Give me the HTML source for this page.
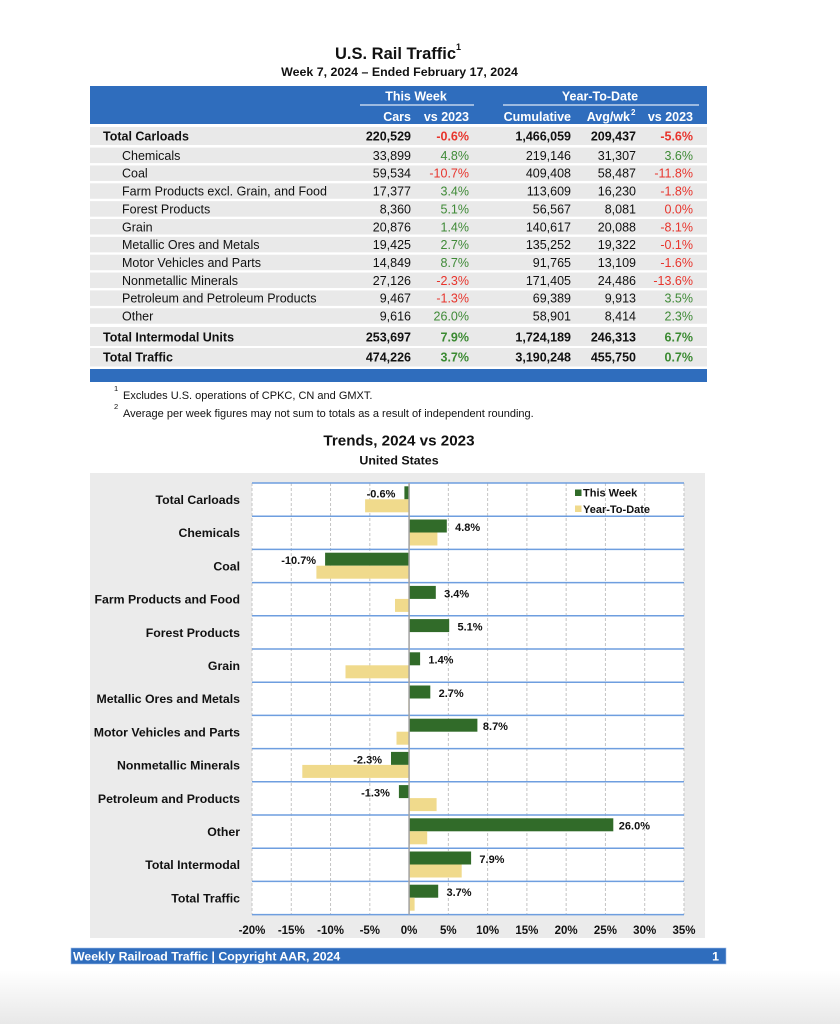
<!DOCTYPE html>
<html><head><meta charset="utf-8"><style>
html,body{margin:0;padding:0;background:#fff;}
svg{display:block;}
text{font-family:"Liberation Sans",Arial,Helvetica,sans-serif;}
</style></head><body>
<svg width="840" height="1024" viewBox="0 0 840 1024" xmlns="http://www.w3.org/2000/svg">
<defs>
<linearGradient id="bg" x1="0" y1="0" x2="0" y2="1">
<stop offset="0" stop-color="#ffffff"/><stop offset="1" stop-color="#e8e8e8"/>
</linearGradient>
</defs>
<rect x="0" y="0" width="840" height="1024" fill="#fff"/>
<rect x="0" y="970" width="840" height="54" fill="url(#bg)"/>

<!-- Title -->
<text x="335" y="59" font-size="16.5" font-weight="bold" fill="#111">U.S. Rail Traffic</text>
<text x="456" y="50" font-size="9" font-weight="bold" fill="#111">1</text>
<text x="399.5" y="76" font-size="12.4" font-weight="bold" fill="#111" text-anchor="middle">Week 7, 2024 – Ended February 17, 2024</text>

<!-- Table header -->
<rect x="90" y="86" width="617" height="38" fill="#2f6dbd"/>
<text x="416" y="100.5" font-size="12.5" font-weight="bold" fill="#fff" text-anchor="middle">This Week</text>
<text x="600" y="100.5" font-size="12.5" font-weight="bold" fill="#fff" text-anchor="middle">Year-To-Date</text>
<line x1="360" y1="105" x2="474" y2="105" stroke="#dfe8f6" stroke-width="1.2"/>
<line x1="503" y1="105" x2="699" y2="105" stroke="#dfe8f6" stroke-width="1.2"/>
<g font-size="12.5" font-weight="bold" fill="#fff" text-anchor="end">
<text x="411" y="121">Cars</text>
<text x="469" y="121">vs 2023</text>
<text x="571" y="121">Cumulative</text>
<text x="630" y="121">Avg/wk</text>
<text x="693" y="121">vs 2023</text>
</g>
<text x="631" y="115" font-size="8" font-weight="bold" fill="#fff">2</text>

<!-- Table rows backgrounds -->
<g fill="#e9e9e9">
<rect x="90" y="127" width="617" height="18"/>
<rect x="90" y="147.6" width="617" height="15.5"/>
<rect x="90" y="165.45" width="617" height="15.5"/>
<rect x="90" y="183.3" width="617" height="15.5"/>
<rect x="90" y="201.15" width="617" height="15.5"/>
<rect x="90" y="219" width="617" height="15.5"/>
<rect x="90" y="236.85" width="617" height="15.5"/>
<rect x="90" y="254.7" width="617" height="15.5"/>
<rect x="90" y="272.55" width="617" height="15.5"/>
<rect x="90" y="290.4" width="617" height="15.5"/>
<rect x="90" y="308.25" width="617" height="15.5"/>
<rect x="90" y="327" width="617" height="19"/>
<rect x="90" y="348" width="617" height="18.5"/>
</g>
<rect x="90" y="369" width="617" height="13" fill="#2f6dbd"/>

<!-- Table text -->
<g font-size="12.5" fill="#111">
<g font-weight="bold">
<text x="103" y="140.5">Total Carloads</text>
<text x="103" y="341.5">Total Intermodal Units</text>
<text x="103" y="361.5">Total Traffic</text>
</g>
<text x="122" y="159.85">Chemicals</text>
<text x="122" y="177.7">Coal</text>
<text x="122" y="195.55">Farm Products excl. Grain, and Food</text>
<text x="122" y="213.4">Forest Products</text>
<text x="122" y="231.25">Grain</text>
<text x="122" y="249.1">Metallic Ores and Metals</text>
<text x="122" y="266.95">Motor Vehicles and Parts</text>
<text x="122" y="284.8">Nonmetallic Minerals</text>
<text x="122" y="302.65">Petroleum and Petroleum Products</text>
<text x="122" y="320.5">Other</text>
</g>

<g font-size="12.5" text-anchor="end">
<!-- Total Carloads -->
<g font-weight="bold">
<text x="411" y="140.5" fill="#111">220,529</text>
<text x="469" y="140.5" fill="#e8342c">-0.6%</text>
<text x="571" y="140.5" fill="#111">1,466,059</text>
<text x="636" y="140.5" fill="#111">209,437</text>
<text x="693" y="140.5" fill="#e8342c">-5.6%</text>

<text x="411" y="341.5" fill="#111">253,697</text>
<text x="469" y="341.5" fill="#3b8a32">7.9%</text>
<text x="571" y="341.5" fill="#111">1,724,189</text>
<text x="636" y="341.5" fill="#111">246,313</text>
<text x="693" y="341.5" fill="#3b8a32">6.7%</text>

<text x="411" y="361.5" fill="#111">474,226</text>
<text x="469" y="361.5" fill="#3b8a32">3.7%</text>
<text x="571" y="361.5" fill="#111">3,190,248</text>
<text x="636" y="361.5" fill="#111">455,750</text>
<text x="693" y="361.5" fill="#3b8a32">0.7%</text>
</g>

<g fill="#111">
<text x="411" y="159.85">33,899</text><text x="571" y="159.85">219,146</text><text x="636" y="159.85">31,307</text>
<text x="411" y="177.7">59,534</text><text x="571" y="177.7">409,408</text><text x="636" y="177.7">58,487</text>
<text x="411" y="195.55">17,377</text><text x="571" y="195.55">113,609</text><text x="636" y="195.55">16,230</text>
<text x="411" y="213.4">8,360</text><text x="571" y="213.4">56,567</text><text x="636" y="213.4">8,081</text>
<text x="411" y="231.25">20,876</text><text x="571" y="231.25">140,617</text><text x="636" y="231.25">20,088</text>
<text x="411" y="249.1">19,425</text><text x="571" y="249.1">135,252</text><text x="636" y="249.1">19,322</text>
<text x="411" y="266.95">14,849</text><text x="571" y="266.95">91,765</text><text x="636" y="266.95">13,109</text>
<text x="411" y="284.8">27,126</text><text x="571" y="284.8">171,405</text><text x="636" y="284.8">24,486</text>
<text x="411" y="302.65">9,467</text><text x="571" y="302.65">69,389</text><text x="636" y="302.65">9,913</text>
<text x="411" y="320.5">9,616</text><text x="571" y="320.5">58,901</text><text x="636" y="320.5">8,414</text>
</g>
<g>
<text x="469" y="159.85" fill="#3f8a37">4.8%</text><text x="693" y="159.85" fill="#3f8a37">3.6%</text>
<text x="469" y="177.7" fill="#e8342c">-10.7%</text><text x="693" y="177.7" fill="#e8342c">-11.8%</text>
<text x="469" y="195.55" fill="#3f8a37">3.4%</text><text x="693" y="195.55" fill="#e8342c">-1.8%</text>
<text x="469" y="213.4" fill="#3f8a37">5.1%</text><text x="693" y="213.4" fill="#e8342c">0.0%</text>
<text x="469" y="231.25" fill="#3f8a37">1.4%</text><text x="693" y="231.25" fill="#e8342c">-8.1%</text>
<text x="469" y="249.1" fill="#3f8a37">2.7%</text><text x="693" y="249.1" fill="#e8342c">-0.1%</text>
<text x="469" y="266.95" fill="#3f8a37">8.7%</text><text x="693" y="266.95" fill="#e8342c">-1.6%</text>
<text x="469" y="284.8" fill="#e8342c">-2.3%</text><text x="693" y="284.8" fill="#e8342c">-13.6%</text>
<text x="469" y="302.65" fill="#e8342c">-1.3%</text><text x="693" y="302.65" fill="#3f8a37">3.5%</text>
<text x="469" y="320.5" fill="#3f8a37">26.0%</text><text x="693" y="320.5" fill="#3f8a37">2.3%</text>
</g>
</g>

<!-- Footnotes -->
<g font-size="11" fill="#111">
<text x="114" y="391" font-size="7.5">1</text>
<text x="123" y="399">Excludes U.S. operations of CPKC, CN and GMXT.</text>
<text x="114" y="409" font-size="7.5">2</text>
<text x="123" y="417">Average per week figures may not sum to totals as a result of independent rounding.</text>
</g>

<!-- Chart titles -->
<text x="399" y="445.4" font-size="15.2" font-weight="bold" fill="#111" text-anchor="middle">Trends, 2024 vs 2023</text>
<text x="399" y="464.4" font-size="12.4" font-weight="bold" fill="#111" text-anchor="middle">United States</text>

<!-- Chart background -->
<rect x="90" y="473" width="615" height="465" fill="#ebebeb"/>
<rect x="252" y="483" width="432" height="431.6" fill="#fff"/>

<!-- vertical grid -->
<g stroke="#c4c4c4" stroke-width="1" stroke-dasharray="3,2">
<line x1="252" y1="483" x2="252" y2="914.6"/>
<line x1="291.27" y1="483" x2="291.27" y2="914.6"/>
<line x1="330.54" y1="483" x2="330.54" y2="914.6"/>
<line x1="369.81" y1="483" x2="369.81" y2="914.6"/>
<line x1="448.35" y1="483" x2="448.35" y2="914.6"/>
<line x1="487.62" y1="483" x2="487.62" y2="914.6"/>
<line x1="526.89" y1="483" x2="526.89" y2="914.6"/>
<line x1="566.16" y1="483" x2="566.16" y2="914.6"/>
<line x1="605.43" y1="483" x2="605.43" y2="914.6"/>
<line x1="644.7" y1="483" x2="644.7" y2="914.6"/>
<line x1="683.97" y1="483" x2="683.97" y2="914.6"/>
</g>

<!-- horizontal blue lines -->
<g stroke="#6e9edf" stroke-width="1.5">
<line x1="252" y1="483" x2="684" y2="483"/>
<line x1="252" y1="516.2" x2="684" y2="516.2"/>
<line x1="252" y1="549.4" x2="684" y2="549.4"/>
<line x1="252" y1="582.6" x2="684" y2="582.6"/>
<line x1="252" y1="615.8" x2="684" y2="615.8"/>
<line x1="252" y1="649" x2="684" y2="649"/>
<line x1="252" y1="682.2" x2="684" y2="682.2"/>
<line x1="252" y1="715.4" x2="684" y2="715.4"/>
<line x1="252" y1="748.6" x2="684" y2="748.6"/>
<line x1="252" y1="781.8" x2="684" y2="781.8"/>
<line x1="252" y1="815" x2="684" y2="815"/>
<line x1="252" y1="848.2" x2="684" y2="848.2"/>
<line x1="252" y1="881.4" x2="684" y2="881.4"/>
<line x1="252" y1="914.6" x2="684" y2="914.6"/>
</g>

<!-- bars: This Week (green) -->
<g fill="#316b29">
<rect x="404.4" y="486.3" width="4.7" height="13"/>
<rect x="409.1" y="519.5" width="37.7" height="13"/>
<rect x="325.1" y="552.7" width="84" height="13"/>
<rect x="409.1" y="585.9" width="26.7" height="13"/>
<rect x="409.1" y="619.1" width="40.1" height="13"/>
<rect x="409.1" y="652.3" width="11" height="13"/>
<rect x="409.1" y="685.5" width="21.2" height="13"/>
<rect x="409.1" y="718.7" width="68.3" height="13"/>
<rect x="391" y="751.9" width="18.1" height="13"/>
<rect x="398.9" y="785.1" width="10.2" height="13"/>
<rect x="409.1" y="818.3" width="204.2" height="13"/>
<rect x="409.1" y="851.5" width="62" height="13"/>
<rect x="409.1" y="884.7" width="29.1" height="13"/>
</g>
<!-- bars: YTD (yellow) -->
<g fill="#f0da8c">
<rect x="365.1" y="499.3" width="44" height="13"/>
<rect x="409.1" y="532.5" width="28.3" height="13"/>
<rect x="316.4" y="565.7" width="92.7" height="13"/>
<rect x="395" y="598.9" width="14.1" height="13"/>
<rect x="345.5" y="665.3" width="63.6" height="13"/>
<rect x="408.3" y="698.5" width="0.8" height="13"/>
<rect x="396.5" y="731.7" width="12.6" height="13"/>
<rect x="302.3" y="764.9" width="106.8" height="13"/>
<rect x="409.1" y="798.1" width="27.5" height="13"/>
<rect x="409.1" y="831.3" width="18.1" height="13"/>
<rect x="409.1" y="864.5" width="52.6" height="13"/>
<rect x="409.1" y="897.7" width="5.5" height="13"/>
</g>

<!-- zero axis -->
<line x1="409.08" y1="483" x2="409.08" y2="914.6" stroke="#a3a3a3" stroke-width="1.5"/>

<!-- value labels -->
<g font-size="11" font-weight="bold" fill="#111">
<text x="395.4" y="497.7" text-anchor="end">-0.6%</text>
<text x="455.1" y="530.9">4.8%</text>
<text x="316.1" y="564.1" text-anchor="end">-10.7%</text>
<text x="444.1" y="597.3">3.4%</text>
<text x="457.5" y="630.5">5.1%</text>
<text x="428.4" y="663.7">1.4%</text>
<text x="438.6" y="696.9">2.7%</text>
<text x="482.9" y="730.1">8.7%</text>
<text x="382" y="763.3" text-anchor="end">-2.3%</text>
<text x="389.9" y="796.5" text-anchor="end">-1.3%</text>
<text x="618.8" y="829.7">26.0%</text>
<text x="479.4" y="862.9">7.9%</text>
<text x="446.5" y="896.1">3.7%</text>
</g>

<!-- legend -->
<rect x="575" y="489.5" width="6.5" height="6.5" fill="#316b29"/>
<rect x="575" y="505.5" width="6.5" height="6.5" fill="#f0da8c"/>
<g font-size="11" font-weight="bold" fill="#111">
<text x="583" y="496.6">This Week</text>
<text x="583" y="512.9">Year-To-Date</text>
</g>

<!-- category labels -->
<g font-size="12.3" font-weight="bold" fill="#111" text-anchor="end">
<text x="240" y="504">Total Carloads</text>
<text x="240" y="537.2">Chemicals</text>
<text x="240" y="570.4">Coal</text>
<text x="240" y="603.6">Farm Products and Food</text>
<text x="240" y="636.8">Forest Products</text>
<text x="240" y="670">Grain</text>
<text x="240" y="703.2">Metallic Ores and Metals</text>
<text x="240" y="736.4">Motor Vehicles and Parts</text>
<text x="240" y="769.6">Nonmetallic Minerals</text>
<text x="240" y="802.8">Petroleum and Products</text>
<text x="240" y="836">Other</text>
<text x="240" y="869.2">Total Intermodal</text>
<text x="240" y="902.4">Total Traffic</text>
</g>

<!-- axis labels -->
<g font-size="11.5" font-weight="bold" fill="#111" text-anchor="middle">
<text x="252" y="934.1">-20%</text>
<text x="291.27" y="934.1">-15%</text>
<text x="330.54" y="934.1">-10%</text>
<text x="369.81" y="934.1">-5%</text>
<text x="409.08" y="934.1">0%</text>
<text x="448.35" y="934.1">5%</text>
<text x="487.62" y="934.1">10%</text>
<text x="526.89" y="934.1">15%</text>
<text x="566.16" y="934.1">20%</text>
<text x="605.43" y="934.1">25%</text>
<text x="644.7" y="934.1">30%</text>
<text x="683.97" y="934.1">35%</text>
</g>

<!-- footer -->
<rect x="71" y="948" width="655" height="16" fill="#2f6dbd" stroke="#9fbde6" stroke-width="0.6"/>
<text x="73" y="960.4" font-size="12.3" font-weight="bold" fill="#fff">Weekly Railroad Traffic | Copyright AAR, 2024</text>
<text x="719" y="960.4" font-size="12.3" font-weight="bold" fill="#fff" text-anchor="end">1</text>
</svg>
</body></html>
